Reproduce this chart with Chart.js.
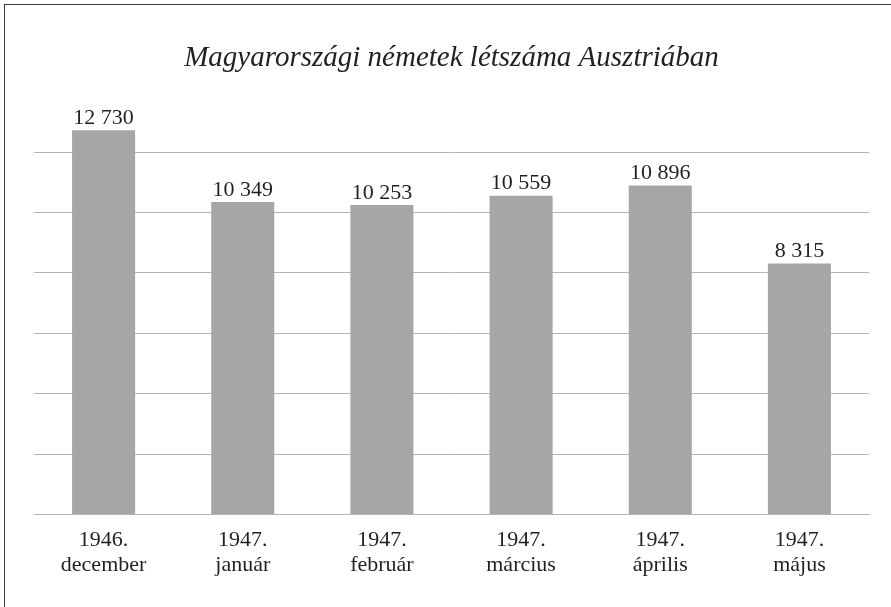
<!DOCTYPE html>
<html>
<head>
<meta charset="utf-8">
<script src="https://cdn.jsdelivr.net/npm/chart.js@4"></script>
<style>
  html, body { margin: 0; padding: 0; background: #fff; overflow: hidden; }
  #frame { position: absolute; left: 4px; top: 4px; width: 1000px; height: 1000px; border: 1px solid #3a3a3a; }
  #wrap { position: absolute; left: 0; top: 0; width: 891px; height: 607px; }
</style>
</head>
<body>
<div id="frame"></div>
<div id="wrap"><canvas id="chart" width="891" height="607"></canvas></div>
<script>
const chartTitle = 'Magyarországi németek létszáma Ausztriában';
const years = ['1946.', '1947.', '1947.', '1947.', '1947.', '1947.'];
const months = ['december', 'január', 'február', 'március', 'április', 'május'];
const counts = [12730, 10349, 10253, 10559, 10896, 8315];
const yTicks = [0, 2000, 4000, 6000, 8000, 10000, 12000, 14000];

const serif = '"Liberation Serif", "DejaVu Serif", serif';
const textColor = '#231f20';

function fmt(v) {
    return String(v).replace(/\B(?=(\d{3})+(?!\d))/g, ' ');
}

// value labels above each bar
const valueLabels = {
    id: 'valueLabels',
    afterDatasetsDraw(chart) {
        const ctx = chart.ctx;
        const meta = chart.getDatasetMeta(0);
        ctx.save();
        ctx.font = '22px ' + serif;
        ctx.fillStyle = textColor;
        ctx.textAlign = 'center';
        ctx.textBaseline = 'bottom';
        meta.data.forEach((bar, i) => {
            ctx.fillText(fmt(counts[i]), bar.x, bar.y - 1);
        });
        ctx.restore();
    }
};

new Chart(document.getElementById('chart').getContext('2d'), {
    type: 'bar',
    data: {
        labels: years.map((y, i) => [y, months[i]]),
        datasets: [{
            data: counts,
            backgroundColor: '#a6a6a9',
            borderWidth: 0,
            categoryPercentage: 1,
            barPercentage: 0.453
        }]
    },
    options: {
        responsive: false,
        animation: false,
        layout: { padding: { left: 34, right: 22, top: 0, bottom: 16 } },
        plugins: {
            legend: { display: false },
            tooltip: { enabled: false },
            title: {
                display: true,
                text: chartTitle,
                color: textColor,
                font: { family: serif, size: 29, style: 'italic', weight: 'normal' },
                padding: { top: 41, bottom: 16 }
            }
        },
        scales: {
            x: {
                grid: { display: false, drawTicks: false },
                border: { display: true, color: '#b5b5b5', width: 1 },
                ticks: {
                    color: textColor,
                    padding: 13,
                    font: { family: serif, size: 22, lineHeight: 1.15 }
                }
            },
            y: {
                min: 0,
                max: yTicks[yTicks.length - 1],
                afterBuildTicks: axis => { axis.ticks = yTicks.map(v => ({ value: v })); },
                ticks: { display: false },
                border: { display: false },
                grid: {
                    drawTicks: false,
                    color: c => (c.tick && c.tick.value === 14000) ? 'rgba(0,0,0,0)' : '#b5b5b5',
                    lineWidth: 1
                }
            }
        }
    },
    plugins: [valueLabels]
});
</script>
</body>
</html>
